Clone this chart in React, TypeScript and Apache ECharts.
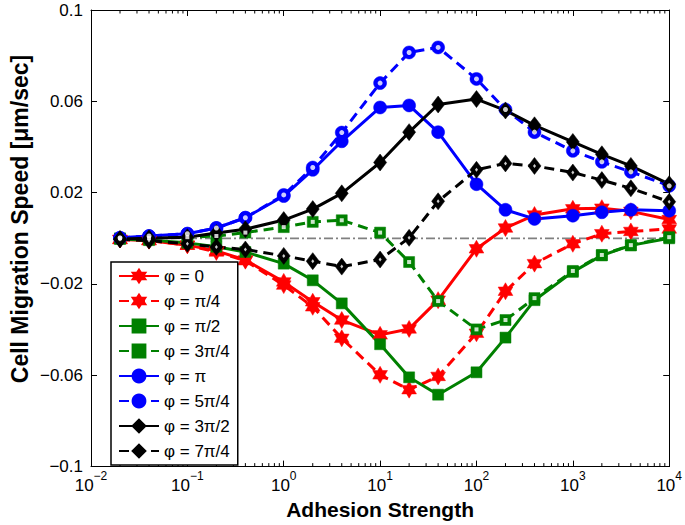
import React, { useEffect, useRef } from 'react';
import * as echarts from 'echarts';

// ---------- data ----------
const adhesion = [0.02, 0.04, 0.1, 0.2, 0.4, 1, 2, 4, 10, 20, 40, 100, 200, 400, 1000, 2000, 4000, 10000];

const phi0 = [-0.0005, -0.001, -0.003, -0.0055, -0.0095, -0.0191, -0.0278, -0.0358, -0.0423, -0.0397, -0.0271, -0.0046, 0.0045, 0.0102, 0.0129, 0.0132, 0.0118, 0.0082];
const phiPi4 = [-0.0005, -0.001, -0.003, -0.006, -0.0098, -0.0205, -0.03, -0.0438, -0.0598, -0.0663, -0.0605, -0.0416, -0.0232, -0.0111, -0.0024, 0.002, 0.003, 0.0041];
const phiPi2 = [-0.0003, -0.0008, -0.002, -0.0037, -0.006, -0.0111, -0.0184, -0.0285, -0.0464, -0.0609, -0.0685, -0.0587, -0.0435, -0.0271, -0.0147, -0.0075, -0.0031, 0.0];
const phi3Pi4 = [0, 0.0001, 0.0005, 0.001, 0.0025, 0.0049, 0.0072, 0.0079, 0.0025, -0.0104, -0.0275, -0.0399, -0.0358, -0.0262, -0.0143, -0.0073, -0.003, 0.0005];
const phiPi = [0.0002, 0.001, 0.002, 0.0045, 0.009, 0.0185, 0.03, 0.0425, 0.0573, 0.0582, 0.0465, 0.0237, 0.0125, 0.0085, 0.0099, 0.0114, 0.0125, 0.0121];
const phi5Pi4 = [0.0002, 0.001, 0.002, 0.0045, 0.009, 0.019, 0.031, 0.0463, 0.068, 0.0814, 0.0836, 0.0698, 0.0564, 0.0465, 0.0383, 0.0335, 0.0291, 0.023];
const phi3Pi2 = [-0.0003, 0, 0.0005, 0.0023, 0.004, 0.008, 0.0128, 0.0197, 0.0332, 0.0465, 0.0586, 0.061, 0.056, 0.0495, 0.0422, 0.0368, 0.0317, 0.0237];
const phi7Pi4 = [-0.0005, -0.001, -0.0024, -0.0038, -0.0049, -0.0077, -0.01, -0.0124, -0.0093, 0.0002, 0.0162, 0.03, 0.0328, 0.0317, 0.0288, 0.0255, 0.0219, 0.016];

const seriesNames = ['φ = 0', 'φ = π/4', 'φ = π/2', 'φ = 3π/4', 'φ = π', 'φ = 5π/4', 'φ = 3π/2', 'φ = 7π/4'];

const zeroLineX = [0.02, 10000];
const xMin = 0.01;
const xMax = 10000;
const yMin = -0.1;
const yMax = 0.1;
const yInterval = 0.04;
const minorDecades = [0.01, 0.1, 1, 10, 100, 1000];
const minorMultipliers = [2, 3, 4, 5, 6, 7, 8, 9];

const xTitle = 'Adhesion Strength';
const yTitle = 'Cell Migration Speed [μm/sec]';

// ---------- styling ----------
const FONT = '"Liberation Sans", Arial, Helvetica, sans-serif';
const RED = '#ff0000';
const GREEN = '#008000';
const BLUE = '#0000ff';
const BLACK = '#000000';

function hexagramPath(): string {
  const pts: string[] = [];
  for (let i = 0; i < 12; i++) {
    const a = ((-90 + 30 * i) * Math.PI) / 180;
    const r = i % 2 === 0 ? 50 : 28.87;
    pts.push(`${(50 + r * Math.cos(a)).toFixed(2)} ${(50 + r * Math.sin(a)).toFixed(2)}`);
  }
  return 'path://M' + pts.join(' L') + ' Z';
}
const STAR = hexagramPath();

function points(values: number[]) {
  return adhesion.map((x, i) => [x, values[i]]);
}

function makeLine(
  name: string,
  values: number[],
  color: string,
  dashed: boolean,
  symbol: string,
  size: number | number[]
) {
  return {
    type: 'line',
    name,
    xAxisIndex: 0,
    yAxisIndex: 0,
    data: points(values),
    symbol,
    symbolSize: size,
    symbolKeepAspect: true,
    showSymbol: true,
    showAllSymbol: true,
    lineStyle: { color, width: 3, type: dashed ? [10, 6] : 'solid' },
    itemStyle: { color, borderColor: color, borderWidth: 0.5 },
    emphasis: { disabled: true },
    z: 3,
  };
}

// small white centre that makes the dashed-series markers look "open"
function makeHole(values: number[], symbol: string, size: number | number[], z: number) {
  return {
    type: 'scatter',
    name: 'hole',
    xAxisIndex: 0,
    yAxisIndex: 0,
    data: points(values),
    symbol,
    symbolSize: size,
    itemStyle: { color: '#ffffff', borderWidth: 0 },
    silent: true,
    emphasis: { disabled: true },
    z,
  };
}

export default function App() {
  const ref = useRef<HTMLDivElement>(null);

  useEffect(() => {
    if (!ref.current) return;
    const chart = echarts.init(ref.current, undefined, { renderer: 'svg' });

    const minorTicks: number[][] = [];
    minorDecades.forEach((d) => minorMultipliers.forEach((m) => minorTicks.push([m * d, 0])));

    const tickLabel = { fontFamily: FONT, fontSize: 17, color: '#000' };

    const option: any = {
      animation: false,
      backgroundColor: '#ffffff',
      grid: { left: 91, right: 13, top: 10, bottom: 56, containLabel: false },
      graphic: [
        {
          type: 'text',
          x: 20,
          y: 219,
          rotation: Math.PI / 2,
          style: {
            text: yTitle,
            align: 'center',
            verticalAlign: 'middle',
            fontFamily: FONT,
            fontSize: 23,
            fontWeight: 'bold',
            fill: '#000',
          },
        },
      ],
      legend: {
        data: seriesNames,
        left: 111,
        top: 262,
        orient: 'vertical',
        itemWidth: 40,
        itemHeight: 16,
        itemGap: 5,
        padding: [4, 8, 4, 7],
        borderColor: '#000',
        borderWidth: 1.5,
        borderRadius: 0,
        backgroundColor: '#fff',
        selectedMode: false,
        textStyle: { fontFamily: FONT, fontSize: 17, color: '#000', lineHeight: 20 },
        z: 10,
      },
      xAxis: [
        {
          type: 'log',
          logBase: 10,
          min: xMin,
          max: xMax,
          position: 'bottom',
          axisLine: { show: true, onZero: false, lineStyle: { color: '#000', width: 1 } },
          axisTick: { show: true, inside: true, length: 6, lineStyle: { color: '#000', width: 1 } },
          splitLine: { show: false },
          axisLabel: {
            margin: 3,
            formatter: (v: number) => {
              const e = Math.round(Math.log10(v));
              return `{b|10}{s|${e < 0 ? '\u2212' + Math.abs(e) : e}}`;
            },
            rich: {
              b: { ...tickLabel, lineHeight: 32, verticalAlign: 'middle' },
              s: { fontFamily: FONT, fontSize: 12, color: '#000', verticalAlign: 'top', lineHeight: 12 },
            },
          },
          name: xTitle,
          nameLocation: 'middle',
          nameGap: 31,
          nameTextStyle: { fontFamily: FONT, fontSize: 21, fontWeight: 'bold', color: '#000' },
        },
        {
          type: 'log',
          logBase: 10,
          min: xMin,
          max: xMax,
          position: 'top',
          axisLine: { show: true, onZero: false, lineStyle: { color: '#000', width: 1 } },
          axisTick: { show: true, inside: true, length: 6, lineStyle: { color: '#000', width: 1 } },
          splitLine: { show: false },
          axisLabel: { show: false },
        },
      ],
      yAxis: [
        {
          type: 'value',
          min: yMin,
          max: yMax,
          interval: yInterval,
          position: 'left',
          axisLine: { show: true, onZero: false, lineStyle: { color: '#000', width: 1 } },
          axisTick: { show: true, inside: true, length: 6, lineStyle: { color: '#000', width: 1 } },
          splitLine: { show: false },
          axisLabel: {
            ...tickLabel,
            margin: 8,
            formatter: (v: number) => {
              const r = Math.round(v * 100) / 100;
              return r < 0 ? '\u2212' + String(Math.abs(r)) : String(r);
            },
          },
        },
        {
          type: 'value',
          min: yMin,
          max: yMax,
          interval: yInterval,
          position: 'right',
          axisLine: { show: true, onZero: false, lineStyle: { color: '#000', width: 1 } },
          axisTick: { show: true, inside: true, length: 6, lineStyle: { color: '#000', width: 1 } },
          splitLine: { show: false },
          axisLabel: { show: false },
        },
      ],
      series: [
        {
          type: 'line',
          name: 'zero',
          data: zeroLineX.map((x) => [x, 0]),
          symbol: 'none',
          lineStyle: { color: '#808080', width: 1.8, type: [9, 3, 2, 3] },
          silent: true,
          z: 1,
        },
        {
          type: 'custom',
          name: 'minor',
          silent: true,
          data: minorTicks,
          encode: { x: 0, y: 1 },
          clip: false,
          z: 1,
          renderItem: (params: any, api: any) => {
            const v = api.value(0);
            const b = api.coord([v, yMin]);
            const t = api.coord([v, yMax]);
            return {
              type: 'group',
              children: [
                { type: 'line', shape: { x1: b[0], y1: b[1], x2: b[0], y2: b[1] - 3.5 }, style: { stroke: '#000', lineWidth: 1 } },
                { type: 'line', shape: { x1: t[0], y1: t[1], x2: t[0], y2: t[1] + 3.5 }, style: { stroke: '#000', lineWidth: 1 } },
              ],
            };
          },
        },
        makeLine(seriesNames[0], phi0, RED, false, STAR, 17),
        makeLine(seriesNames[1], phiPi4, RED, true, STAR, 17),
        makeLine(seriesNames[2], phiPi2, GREEN, false, 'rect', 11),
        makeLine(seriesNames[3], phi3Pi4, GREEN, true, 'rect', 11),
        makeHole(phi3Pi4, 'rect', 4, 4),
        makeLine(seriesNames[4], phiPi, BLUE, false, 'circle', 13),
        makeLine(seriesNames[5], phi5Pi4, BLUE, true, 'circle', 13),
        makeHole(phi5Pi4, 'circle', 5, 4),
        makeLine(seriesNames[6], phi3Pi2, BLACK, false, 'diamond', [13, 17]),
        makeLine(seriesNames[7], phi7Pi4, BLACK, true, 'diamond', [13, 17]),
        makeHole(phi7Pi4, 'diamond', [3, 4], 4),
      ],
    };

    chart.setOption(option);
    return () => chart.dispose();
  }, []);

  return (
    <div
      ref={ref}
      style={{ position: 'fixed', left: 0, top: 0, width: 685, height: 525, background: '#fff' }}
    />
  );
}
